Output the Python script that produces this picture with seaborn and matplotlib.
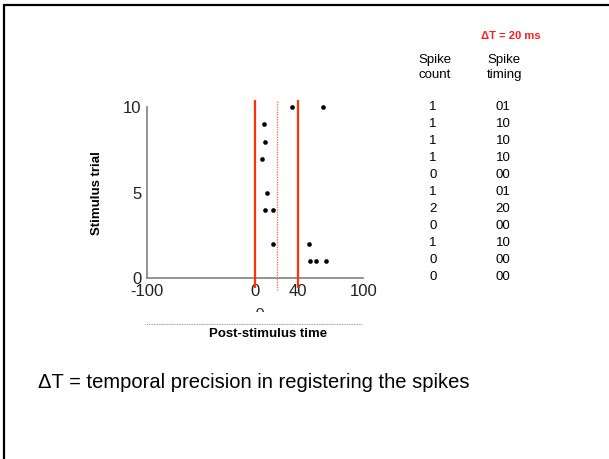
import matplotlib
matplotlib.use("Agg")
import matplotlib.pyplot as plt
from matplotlib.lines import Line2D
from matplotlib.patches import Rectangle
import seaborn as sns
import pandas as pd

# Spike raster: trial number and post-stimulus spike times (ms)
spike_trials = [10, 10, 9, 8, 7, 5, 4, 4, 2, 2, 1, 1, 1]
spike_times = [34, 63, 8.5, 9, 6.5, 11.5, 9, 17, 17, 50, 51, 56, 66]

# Counting window and bin boundaries (ms)
window_edges = [0, 40]
bin_split = 20

x_ticks = [-100, 0, 40, 100]
y_ticks = [0, 5, 10]

# Encoding table, one row per trial from 10 down to 0
spike_count = ["1", "1", "1", "1", "0", "1", "2", "0", "1", "0", "0"]
spike_timing = ["01", "10", "10", "10", "00", "01", "20", "00", "10", "00", "00"]

W, H = 609, 459


def fx(x):
    return x / W


def fy(y):
    return 1 - y / H


sns.set_theme(style="white")
plt.rcParams["font.family"] = ["Liberation Sans", "DejaVu Sans"]

fig = plt.figure(figsize=(W / 100, H / 100), dpi=100)
fig.patch.set_facecolor("white")

# Slide frame (top and left edges)
fig.add_artist(Line2D([fx(4), fx(609)], [fy(5), fy(5)], transform=fig.transFigure,
                      color="black", lw=1.6))
fig.add_artist(Line2D([fx(4), fx(4)], [fy(5), fy(459)], transform=fig.transFigure,
                      color="black", lw=1.6))

left, right = 146.7, 363.3
top, bottom = 107.3, 278.3
ax = fig.add_axes([fx(left), fy(bottom), (right - left) / W, (bottom - top) / H])
ax.set_facecolor("white")

df = pd.DataFrame({"time": spike_times, "trial": spike_trials})
sns.scatterplot(data=df, x="time", y="trial", ax=ax, color="black", s=9,
                marker="o", edgecolor="black", linewidth=0.3, zorder=4)
for coll in ax.collections:
    coll.set_clip_on(False)

ax.set_xlim(-100, 100)
ax.set_ylim(0, 10)
ax.set_xticks(x_ticks)
ax.set_xticklabels([str(t) for t in x_ticks])
ax.set_yticks(y_ticks)
ax.set_yticklabels([str(t) for t in y_ticks])
ax.tick_params(axis="both", length=0, labelsize=12, colors="#222222")
ax.tick_params(axis="x", pad=4)
ax.tick_params(axis="y", pad=4)
ax.set_xlabel("")
ax.set_ylabel("Stimulus trial", fontsize=9.5, fontweight="bold", color="black",
              labelpad=14)

for side in ["top", "right"]:
    ax.spines[side].set_visible(False)
for side in ["left", "bottom"]:
    ax.spines[side].set_color("#808080")
    ax.spines[side].set_linewidth(1.2)

# Counting window edges and bin split
ax.vlines(window_edges, ymin=-0.57, ymax=10.43, colors="#ff3300", linewidth=1.6,
          clip_on=False, zorder=3)
ax.vlines([bin_split], ymin=-0.68, ymax=10.43, colors="#ff6040", linewidth=0.9,
          linestyles=(0, (1, 1)), clip_on=False, zorder=3)

# Partially hidden label below the axis
clip = Rectangle((fx(240), fy(311.5)), fx(40), fy(300) - fy(311.5),
                 transform=fig.transFigure, visible=False)
fig.add_artist(clip)
t = fig.text(fx(258), fy(316), "-0", ha="center", va="center", fontsize=12,
             color="#333333")
t.set_clip_path(clip)
t.set_clip_on(True)

# x-axis label with dotted rule above
fig.add_artist(Line2D([fx(145), fx(362)], [fy(324), fy(324)], transform=fig.transFigure,
                      color="#777777", lw=0.6, linestyle=(0, (1, 1))))
fig.text(fx(268), fy(334), "Post-stimulus time", ha="center", va="center",
         fontsize=9.5, fontweight="bold", color="black")

# Encoding table
fig.text(fx(511), fy(36), "ΔT = 20 ms", ha="center", va="center", fontsize=8,
         fontweight="bold", color="#ff1a1a")
for line_y, (a, b) in zip([60, 75], [("Spike", "Spike"), ("count", "timing")]):
    fig.text(fx(418), fy(line_y), a, ha="left", va="center", fontsize=9.5, color="black")
    fig.text(fx(487), fy(line_y), b, ha="left", va="center", fontsize=9.5, color="black")

row_y0, row_step = 106.7, 17.0
for i, (c, s) in enumerate(zip(spike_count, spike_timing)):
    yy = row_y0 + i * row_step
    fig.text(fx(433), fy(yy), c, ha="center", va="center", fontsize=9.5, color="black")
    fig.text(fx(503), fy(yy), s, ha="center", va="center", fontsize=9.5, color="black")

fig.text(fx(38), fy(382), "ΔT = temporal precision in registering the spikes",
         ha="left", va="center", fontsize=14.5, color="black")

fig.savefig("out.png", dpi=100, facecolor="white")
